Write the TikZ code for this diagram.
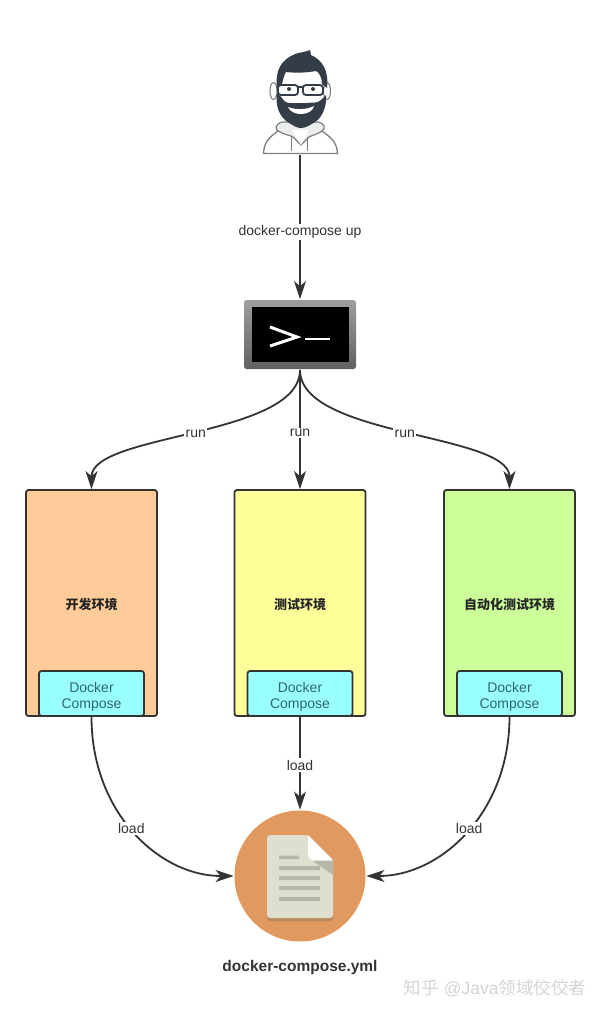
\documentclass[tikz,border=0pt]{standalone}
\usepackage{fontspec}
\setmainfont{Liberation Sans}
\newfontfamily\cjk{Noto Sans CJK SC}
\usetikzlibrary{arrows.meta,positioning}

\definecolor{linegray}{HTML}{333333}
\definecolor{hairgray}{HTML}{343D47}
\definecolor{bodygray}{HTML}{7B7F82}
\definecolor{hoodgray}{HTML}{ECEDED}
\definecolor{filecircle}{HTML}{E09A5F}
\definecolor{fileedge}{HTML}{B98A5E}
\definecolor{filepage}{HTML}{DEDFCF}
\definecolor{filebar}{HTML}{B5B7A8}
\definecolor{dcblue}{HTML}{99FFFF}
\definecolor{dctext}{HTML}{2F6670}
\definecolor{devfill}{HTML}{FFCC99}
\definecolor{testfill}{HTML}{FFFF99}
\definecolor{autofill}{HTML}{CCFF99}

\begin{document}
\begin{tikzpicture}[x=1pt,y=-1pt,>={Stealth[length=18pt,width=12pt,inset=5pt]},line width=1.8pt,draw=linegray]
	\tikzstyle{envbox}=[draw=linegray,rounded corners=2.5pt,minimum width=131pt,minimum height=226pt,text height=15pt,font=\cjk\bfseries\fontsize{13}{15}\selectfont,text=black!85]
	\tikzstyle{dcbox}=[draw=linegray,fill=dcblue,rounded corners=2.5pt,minimum width=105pt,minimum height=45pt,align=center,text height=33pt,font=\fontsize{14}{16}\selectfont,text=dctext,anchor=south]
	\tikzstyle{lbl}=[fill=white,inner sep=1.5pt,font=\fontsize{14}{15}\selectfont,text=black!80]
	\tikzstyle{conn}=[->,draw=linegray]

	\useasboundingbox (0,0) rectangle (600,1012);

	% person
	\node (user) at (300,103) [minimum width=76pt,minimum height=102pt,inner sep=0pt] {};
	\draw[bodygray,fill=white,line width=1.3pt,line join=round] (263.5,153.5) .. controls (264,143) and (268,138) .. (278,131) -- (322,131) .. controls (332,138) and (337,143) .. (337.5,153.5) -- cycle;
	\draw[bodygray,fill=hoodgray,line width=1.2pt] (282,122) .. controls (275,124) and (274,130) .. (280,132) .. controls (285,135) and (290,135) .. (293,137) -- (301,145) -- (309,137) .. controls (313,135) and (318,134) .. (322,131) .. controls (326,128) and (325,124) .. (318,122) -- cycle;
	\fill[white] (292,130) -- (301,145) -- (309,130) -- cycle;
	\draw[bodygray,line width=1pt] (291,137) -- (291,151) (307,137) -- (307,151);
	\draw[bodygray,fill=white,line width=1.1pt] (273.5,91) ellipse (3.5pt and 8.5pt) (327,91) ellipse (3.5pt and 8.5pt);
	\fill[white] (279,70) rectangle (323,120);
	\fill[hairgray] (277,88) .. controls (275,70) and (281,60) .. (295,54) .. controls (301,52) and (306,52) .. (310,50) -- (311,55) .. controls (322,60) and (329,70) .. (327,88) -- (322,84) .. controls (322,78) and (319,72) .. (316,71) .. controls (305,73) and (295,73) .. (286,72) .. controls (284,75) and (283,80) .. (282,84) -- cycle;
	\fill[hairgray] (277,93) .. controls (275,105) and (279,117) .. (289,123) .. controls (294,126) and (297,128) .. (301,128) .. controls (306,128) and (310,125) .. (315,122) .. controls (323,117) and (327,105) .. (326,95) -- (321,100) .. controls (317,104) and (312,102) .. (307,103) -- (294,103) .. controls (290,103) and (285,104) .. (282,98) -- cycle;
	\fill[white] (288,107) .. controls (296,110) and (306,110) .. (314,106) .. controls (312,116) and (292,117) .. (288,107) -- cycle;
	\draw[hairgray,line width=1.8pt,rounded corners=3pt] (278,85) rectangle (298,95) (303,85) rectangle (323,95) (298,87) -- (303,87);
	\fill[hairgray] (289,89) circle (2pt) (313,89) circle (2pt);

	% terminal
	\node (term) at (300,334.5) [minimum width=112pt,minimum height=69pt,rounded corners=2.5pt,top color=black!38,bottom color=black!62,inner sep=0pt] {};
	\node (screen) at (term.center) [fill=black,minimum width=97pt,minimum height=55pt,inner sep=0pt] {};
	\draw[white,line width=3pt,line join=miter] (270,327) -- (297,337) -- (270,346);
	\draw[white,line width=2.2pt] (305,339) -- (330,339);

	% environments
	\node[envbox,fill=devfill] (dev) at (91.5,603) {开发环境};
	\node[envbox,fill=testfill] (test) at (300,603) {测试环境};
	\node[envbox,fill=autofill] (auto) at (509.5,603) {自动化测试环境};
	\node[dcbox] (dcdev) at (dev.south) {Docker\\Compose};
	\node[dcbox] (dctest) at (test.south) {Docker\\Compose};
	\node[dcbox] (dcauto) at (auto.south) {Docker\\Compose};

	% compose file
	\node (file) at (300,876) [circle,fill=filecircle,minimum size=131pt,inner sep=0pt] {};
	\fill[fileedge,rounded corners=3pt] (267,905) rectangle (333,921);
	\fill[filepage,rounded corners=3pt] (267,835) -- (308,835) -- (333,860) -- (333,918) -- (267,918) -- cycle;
	\fill[white] (308,835) -- (333,860) -- (312,860) .. controls (309,859) and (308,857) .. (308,854) -- cycle;
	\fill[filebar] (313,861) -- (333,861) -- (333,875) -- cycle;
	\fill[filebar] (279,855.5) rectangle (299,859) (279,866) rectangle (320,870) (279,876) rectangle (320,880) (279,886) rectangle (320,890) (279,897) rectangle (320,901);
	\node (filename) at (300,967) [font=\fontsize{15.5}{17}\selectfont\bfseries,text=black!80] {docker-compose.yml};

	% connectors
	\path (user) edge[conn] node[lbl,pos=0.535] {docker-compose up} (term);
	\draw[conn] (term.south) .. controls +(0,67) and +(0,-56) .. node[lbl,pos=0.5] {run} (dev.north);
	\path (term.south) edge[conn] node[lbl,pos=0.53] {run} (test.north);
	\draw[conn] (term.south) .. controls +(0,67) and +(0,-56) .. node[lbl,pos=0.5] {run} (auto.north);
	\draw[conn] (dcdev.south) .. controls +(0,95) and +(-75,0) .. node[lbl,pos=0.48] {load} (file.west);
	\path (dctest.south) edge[conn] node[lbl,pos=0.52] {load} (file.north);
	\draw[conn] (dcauto.south) .. controls +(0,95) and +(75,0) .. node[lbl,pos=0.48] {load} (file.east);

	% watermark
	\node (mark) at (495,988) [text=black!17,font=\fontsize{17.5}{19}\selectfont] {{\cjk 知乎} @Java{\cjk 领域佼佼者}};
\end{tikzpicture}
\end{document}
